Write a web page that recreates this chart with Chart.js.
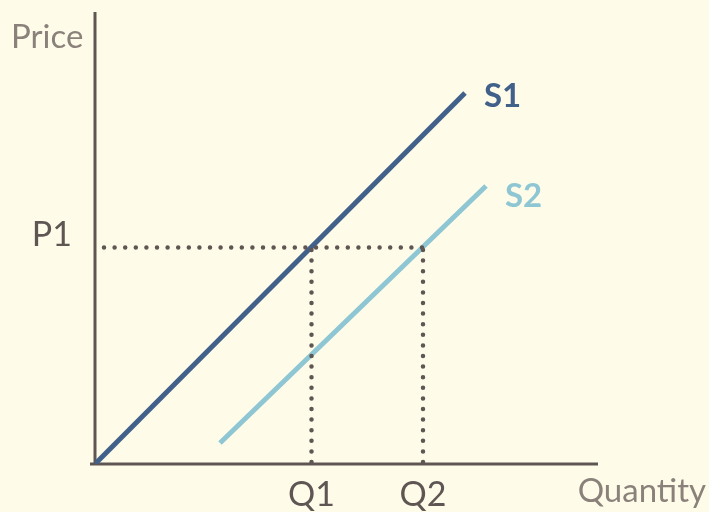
<!DOCTYPE html>
<html>
<head>
<meta charset="utf-8">
<script src="https://cdn.jsdelivr.net/npm/chart.js@4/dist/chart.umd.min.js"></script>
<style>
  html, body { margin: 0; padding: 0; background: #fefce9; }
  #wrap { width: 709px; height: 512px; }
</style>
</head>
<body>
<div id="wrap"><canvas id="supply"></canvas></div>
<script>
// supply curves (quantity, price)
const s1Quantity = [0, 7.4];
const s1Price = [0, 7.42];
const s2Quantity = [2.5, 7.82];
const s2Price = [0.42, 5.56];

// equilibrium markers
const priceLevels = [4.33];
const quantityLevels = [4.33, 6.56];
const priceLabels = ["P1"];
const quantityLabels = ["Q1", "Q2"];
const seriesNames = ["S1", "S2"];

const yAxisTitle = "Price";
const xAxisTitle = "Quantity";

const axisColor = "#5f5654";
const mutedText = "#8a827a";
const s1Color = "#41608a";
const s2Color = "#8ec6d3";

function pairs(xs, ys) {
  return xs.map((x, i) => ({ x: x, y: ys[i] }));
}

const dotted = {
  borderColor: axisColor,
  borderWidth: 4.5,
  borderDash: [0, 10.6],
  borderCapStyle: "round",
  pointRadius: 0,
  fill: false,
};

const datasets = [
  // P1 guide across to Q2
  Object.assign({}, dotted, {
    data: [{ x: 0.18, y: priceLevels[0] }, { x: quantityLevels[1], y: priceLevels[0] }],
  }),
  Object.assign({}, dotted, {
    data: [{ x: quantityLevels[0], y: 0.04 }, { x: quantityLevels[0], y: priceLevels[0] }],
  }),
  Object.assign({}, dotted, {
    data: [{ x: quantityLevels[1], y: 0.04 }, { x: quantityLevels[1], y: priceLevels[0] }],
  }),
  {
    label: seriesNames[0],
    data: pairs(s1Quantity, s1Price),
    borderColor: s1Color,
    borderWidth: 5,
    pointRadius: 0,
  },
  {
    label: seriesNames[1],
    data: pairs(s2Quantity, s2Price),
    borderColor: s2Color,
    borderWidth: 5,
    pointRadius: 0,
  },
];

const axesAndLabels = {
  id: "axesAndLabels",
  beforeDatasetsDraw(chart) {
    const { ctx, chartArea } = chart;
    ctx.save();
    ctx.strokeStyle = axisColor;
    ctx.lineWidth = 3;
    ctx.beginPath();
    ctx.moveTo(chartArea.left, chartArea.top);
    ctx.lineTo(chartArea.left, chartArea.bottom);
    ctx.moveTo(chartArea.left - 5, chartArea.bottom);
    ctx.lineTo(chartArea.right, chartArea.bottom);
    ctx.stroke();
    ctx.restore();
  },
  afterDatasetsDraw(chart) {
    const { ctx, chartArea, scales } = chart;
    const x = scales.x, y = scales.y;
    ctx.save();
    ctx.textBaseline = "alphabetic";

    ctx.font = "33px Lato";
    ctx.fillStyle = mutedText;
    ctx.textAlign = "left";
    ctx.fillText(yAxisTitle, 11, 48);
    ctx.textAlign = "right";
    ctx.fillText(xAxisTitle, 706, chartArea.bottom + 38);

    ctx.font = "34px Lato";
    ctx.fillStyle = axisColor;
    ctx.textAlign = "right";
    priceLabels.forEach((t, i) => {
      ctx.fillText(t, 72, y.getPixelForValue(priceLevels[i]) - 2);
    });
    ctx.textAlign = "center";
    quantityLabels.forEach((t, i) => {
      ctx.fillText(t, x.getPixelForValue(quantityLevels[i]), chartArea.bottom + 42);
    });

    ctx.font = "bold 33px Lato";
    ctx.textAlign = "left";
    ctx.fillStyle = s1Color;
    ctx.fillText(seriesNames[0], x.getPixelForValue(s1Quantity[1]) + 19, y.getPixelForValue(s1Price[1]) + 14);
    ctx.fillStyle = s2Color;
    ctx.fillText(seriesNames[1], x.getPixelForValue(s2Quantity[1]) + 19, y.getPixelForValue(s2Price[1]) + 21);
    ctx.restore();
  },
};

new Chart(document.getElementById("supply"), {
  type: "line",
  data: { datasets: datasets },
  options: {
    responsive: true,
    maintainAspectRatio: false,
    animation: false,
    layout: { padding: { left: 95, right: 111, top: 12, bottom: 48 } },
    plugins: { legend: { display: false }, tooltip: { enabled: false } },
    scales: {
      x: { type: "linear", min: 0, max: 10.06, display: false },
      y: { type: "linear", min: 0, max: 9.04, display: false },
    },
  },
  plugins: [axesAndLabels],
});
</script>
</body>
</html>
